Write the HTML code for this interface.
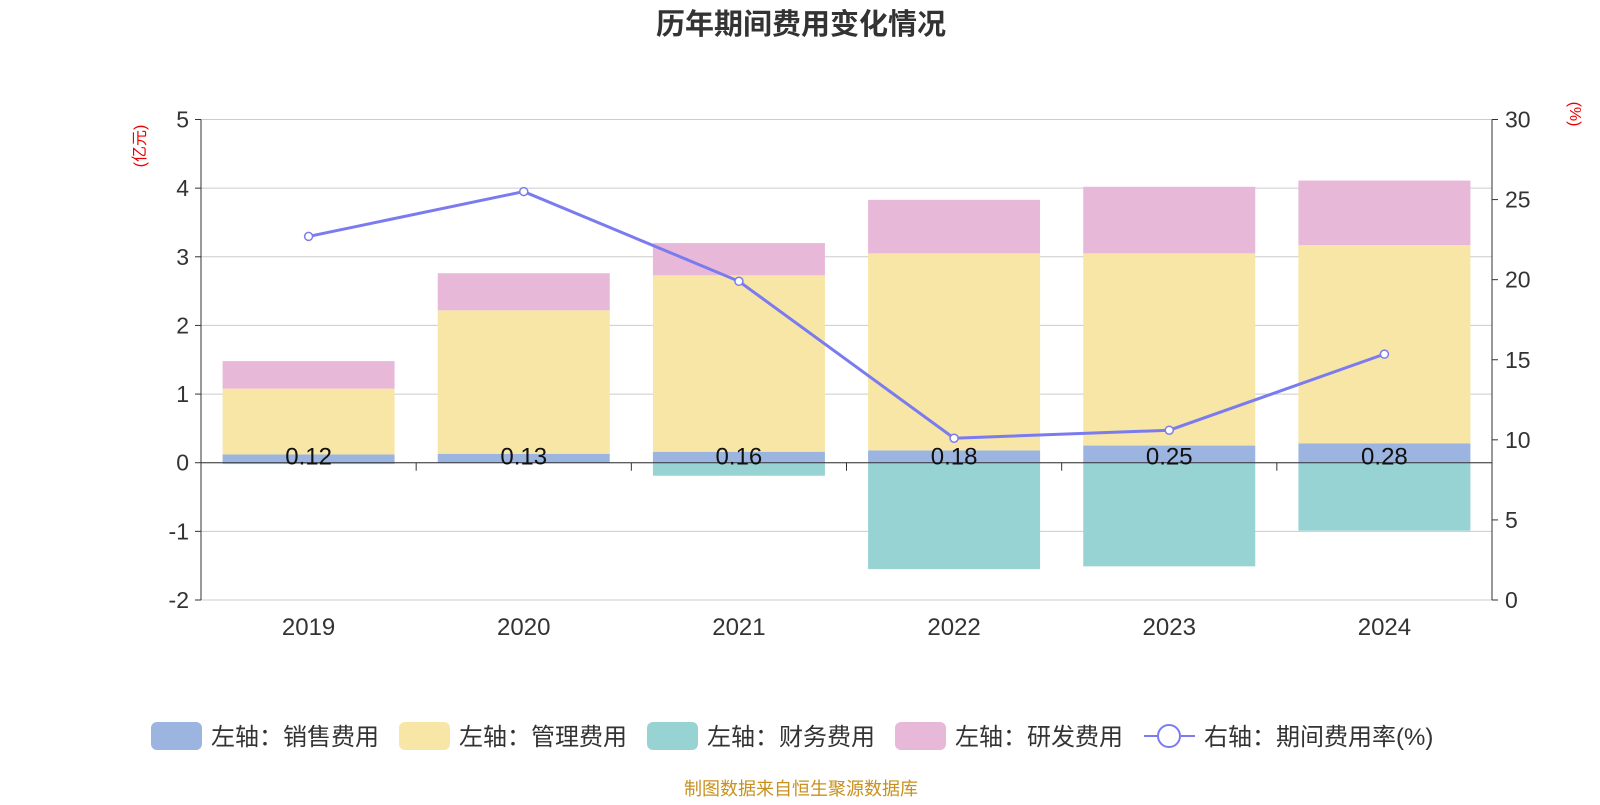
<!DOCTYPE html>
<html><head><meta charset="utf-8"><style>
body{margin:0;background:#fff;font-family:"Liberation Sans","Noto Sans CJK SC",sans-serif;}
svg text{font-family:"Liberation Sans","Noto Sans CJK SC",sans-serif;}
</style></head><body>
<svg id="c" width="1600" height="800">
<text x="801" y="34" text-anchor="middle" font-size="29" font-weight="bold" fill="#333">历年期间费用变化情况</text>
<text x="0" y="0" transform="translate(145,146) rotate(-90)" text-anchor="middle" font-size="16" fill="#e00">(亿元)</text>
<text x="0" y="0" transform="translate(1570,114) rotate(90)" text-anchor="middle" font-size="16" fill="#e00">(%)</text>
<g id="grid"></g><g id="bars"></g><g id="axes"></g><g id="line"></g>
<g id="legend"></g>
<text x="801" y="795" text-anchor="middle" font-size="18" fill="#c8901e">制图数据来自恒生聚源数据库</text>
</svg>
<script>
const years=["2019","2020","2021","2022","2023","2024"];
const sales=[0.12,0.13,0.16,0.18,0.25,0.28];
const mgmt=[0.96,2.09,2.57,2.87,2.80,2.89];
const fin=[-0.02,0.0,-0.19,-1.55,-1.51,-0.99];
const rd=[0.40,0.54,0.47,0.78,0.97,0.94];
const rate=[22.7,25.5,19.9,10.1,10.6,15.35];
const leftTicks=[5,4,3,2,1,0,-1,-2];
const rightTicks=[30,25,20,15,10,5,0];
const NS="http://www.w3.org/2000/svg";
const X0=201,X1=1492,Y5=119.5,Ym2=600;
const yL=v=>Y5+(5-v)*(Ym2-Y5)/7;
const yR=v=>Ym2-v*(Ym2-Y5)/30;
const bw=(X1-X0)/years.length;
const xc=i=>X0+bw*(i+0.5);
function mk(p,t,a){const e=document.createElementNS(NS,t);for(const k in a)e.setAttribute(k,a[k]);document.getElementById(p).appendChild(e);return e;}
leftTicks.forEach(v=>{
 const g=mk('grid','line',{x1:X0,x2:X1,y1:yL(v),y2:yL(v),stroke:'#ccc','stroke-width':1});
 
 mk('axes','line',{x1:X0-6,x2:X0,y1:yL(v),y2:yL(v),stroke:'#333'});
 const t=mk('axes','text',{x:X0-12,y:yL(v)+8,'text-anchor':'end','font-size':23,fill:'#333'});t.textContent=v;
 
});
rightTicks.forEach(v=>{
 mk('axes','line',{x1:X1,x2:X1+6,y1:yR(v),y2:yR(v),stroke:'#333'});
 const t=mk('axes','text',{x:X1+13,y:yR(v)+8,'font-size':23,fill:'#333'});t.textContent=v;
 
});
mk('axes','line',{x1:X0,x2:X0,y1:Y5,y2:Ym2,stroke:'#333'});
mk('axes','line',{x1:X1,x2:X1,y1:Y5,y2:Ym2,stroke:'#333'});
mk('axes','line',{x1:X0,x2:X1,y1:yL(0),y2:yL(0),stroke:'#333'});
for(let k=0;k<=years.length;k++) mk('axes','line',{x1:X0+bw*k,x2:X0+bw*k,y1:yL(0),y2:yL(0)+8,stroke:'#333'});
const BW=172;
years.forEach((y,i)=>{
 const x=xc(i)-BW/2;
 let b=0;
 const r1=mk('bars','rect',{x:x,y:yL(sales[i]),width:BW,height:yL(0)-yL(sales[i]),fill:'#9bb5e0'});
 
 b=sales[i];
 const r2=mk('bars','rect',{x:x,y:yL(b+mgmt[i]),width:BW,height:yL(b)-yL(b+mgmt[i]),fill:'#f7e6a6'});
 
 b+=mgmt[i];
 const r3=mk('bars','rect',{x:x,y:yL(b+rd[i]),width:BW,height:yL(b)-yL(b+rd[i]),fill:'#e8b8d8'});
 
 const r4=mk('bars','rect',{x:x,y:yL(0),width:BW,height:Math.max(0,yL(fin[i])-yL(0)),fill:'#98d3d4'});
 
 const lb=mk('line','text',{x:xc(i),y:yL(0)+2,'text-anchor':'middle','font-size':24,fill:'#111'});lb.textContent=sales[i].toFixed(2);
 
 const xt=mk('axes','text',{x:xc(i),y:635,'text-anchor':'middle','font-size':24,fill:'#333'});xt.textContent=y;
 
});
const pl=mk('line','polyline',{points:rate.map((v,i)=>xc(i)+','+yR(v)).join(' '),fill:'none',stroke:'#7b7bf0','stroke-width':3});

rate.forEach((v,i)=>{const c=mk('line','circle',{cx:xc(i),cy:yR(v),r:4,fill:'#fff',stroke:'#7b7bf0','stroke-width':1.5});
 });
const lg=[["左轴：销售费用",'#9bb5e0',151],["左轴：管理费用",'#f7e6a6',399],["左轴：财务费用",'#98d3d4',647],["左轴：研发费用",'#e8b8d8',895]];
lg.forEach(l=>{const r=mk('legend','rect',{x:l[2],y:722,width:51,height:28,rx:6,fill:l[1]});
 
 const t=mk('legend','text',{x:l[2]+60,y:745,'font-size':24,fill:'#333'});t.textContent=l[0];
 });
mk('legend','line',{x1:1144,x2:1195,y1:736,y2:736,stroke:'#7b7bf0','stroke-width':2});
const lc=mk('legend','circle',{cx:1169,cy:736,r:11,fill:'#fff',stroke:'#7b7bf0','stroke-width':2});

const lt=mk('legend','text',{x:1204,y:745,'font-size':24,fill:'#333'});lt.textContent="右轴：期间费用率(%)";

</script>
</body></html>
